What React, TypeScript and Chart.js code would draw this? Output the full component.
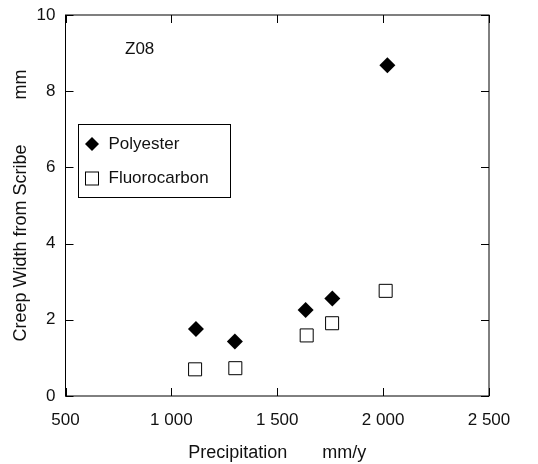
import React, { useEffect, useRef } from "react";
import { Chart, registerables } from "chart.js";

Chart.register(...registerables);

const polyesterX = [1116, 1300, 1634, 1760, 2020];
const polyesterY = [1.76, 1.43, 2.26, 2.56, 8.68];
const fluoroX = [1112, 1302, 1639, 1759, 2012];
const fluoroY = [0.7, 0.73, 1.59, 1.91, 2.76];
const seriesNames = ["Polyester", "Fluorocarbon"];
const xTitle = "Precipitation       mm/y";
const yTitle = "Creep Width from Scribe         mm";
const panelLabel = "Z08";

const FONT = "Arial, 'Liberation Sans', Helvetica, sans-serif";
const TEXT = "#111";

function fmt(v: number): string {
  const s = Math.round(v).toString();
  if (s.length <= 3) return s;
  return s.slice(0, s.length - 3) + " " + s.slice(s.length - 3);
}

const frame = {
  id: "frame",
  afterDatasetsDraw(chart: any) {
    const { ctx, chartArea: a, scales } = chart;
    ctx.save();
    ctx.strokeStyle = "#000";
    ctx.lineWidth = 1;
    ctx.strokeRect(a.left, a.top, a.right - a.left, a.bottom - a.top);
    const L = 8;
    ctx.beginPath();
    for (const t of scales.x.ticks) {
      const px = Math.round(scales.x.getPixelForValue(t.value)) + 0.5;
      ctx.moveTo(px, a.bottom);
      ctx.lineTo(px, a.bottom - L);
      ctx.moveTo(px, a.top);
      ctx.lineTo(px, a.top + L);
    }
    for (const t of scales.y.ticks) {
      const py = Math.round(scales.y.getPixelForValue(t.value)) + 0.5;
      ctx.moveTo(a.left, py);
      ctx.lineTo(a.left + L, py);
      ctx.moveTo(a.right, py);
      ctx.lineTo(a.right - L, py);
    }
    ctx.stroke();

    // panel label
    ctx.fillStyle = TEXT;
    ctx.font = `17px ${FONT}`;
    ctx.textBaseline = "middle";
    ctx.textAlign = "left";
    ctx.fillText(panelLabel, a.left + 59.5, a.top + 34);

    // legend
    const bx = a.left + 12.5;
    const by = a.top + 109;
    ctx.strokeRect(Math.round(bx) + 0.5, Math.round(by) + 0.5, 152, 73);
    const mx = bx + 14;
    const r1 = by + 20;
    const r2 = by + 54.5;
    ctx.beginPath();
    ctx.moveTo(mx, r1 - 7);
    ctx.lineTo(mx + 7, r1);
    ctx.lineTo(mx, r1 + 7);
    ctx.lineTo(mx - 7, r1);
    ctx.closePath();
    ctx.fillStyle = "#000";
    ctx.fill();
    ctx.fillStyle = "#fff";
    ctx.fillRect(mx - 6.5, r2 - 6.5, 13, 13);
    ctx.strokeStyle = "#000";
    ctx.strokeRect(mx - 6.5, r2 - 6.5, 13, 13);
    ctx.fillStyle = TEXT;
    ctx.fillText(seriesNames[0], bx + 30.5, r1);
    ctx.fillText(seriesNames[1], bx + 30.5, r2);
    ctx.restore();
  },
};

function noPad(s: any) {
  s.paddingTop = 0;
  s.paddingBottom = 0;
  s.paddingLeft = 0;
  s.paddingRight = 0;
}

export default function App() {
  const ref = useRef<HTMLCanvasElement | null>(null);
  useEffect(() => {
    document.body.style.margin = "0";
    const canvas = ref.current;
    if (!canvas) return;
    const chart = new Chart(canvas, {
      type: "scatter",
      data: {
        datasets: [
          {
            label: seriesNames[0],
            data: polyesterX.map((x, i) => ({ x, y: polyesterY[i] })),
            pointStyle: "rectRot",
            pointRadius: 8,
            pointHoverRadius: 8,
            backgroundColor: "#000",
            borderColor: "#000",
            borderWidth: 0,
          },
          {
            label: seriesNames[1],
            data: fluoroX.map((x, i) => ({ x, y: fluoroY[i] })),
            pointStyle: "rect",
            pointRadius: 9.2,
            pointHoverRadius: 9.2,
            backgroundColor: "#fff",
            borderColor: "#000",
            borderWidth: 1,
          },
        ],
      },
      plugins: [frame],
      options: {
        animation: false,
        responsive: false,
        devicePixelRatio: 1,
        layout: { padding: { left: 0, top: 15, right: 49, bottom: 0 } },
        plugins: {
          legend: { display: false },
          tooltip: { enabled: false },
        },
        scales: {
          x: {
            type: "linear",
            min: 500,
            max: 2500,
            grid: { display: false, drawTicks: false },
            border: { display: false },
            ticks: {
              stepSize: 500,
              padding: 14,
              color: TEXT,
              font: { family: FONT, size: 17 },
              maxRotation: 0,
              callback: (v: any) => fmt(Number(v)),
            },
            title: {
              display: true,
              text: xTitle,
              color: TEXT,
              font: { family: FONT, size: 18 },
              padding: { top: 0, bottom: 0 },
            },
            afterFit: (s: any) => {
              s.height = 68;
              noPad(s);
            },
          },
          y: {
            type: "linear",
            min: 0,
            max: 10,
            grid: { display: false, drawTicks: false },
            border: { display: false },
            ticks: {
              stepSize: 2,
              padding: 10,
              color: TEXT,
              font: { family: FONT, size: 17 },
            },
            title: {
              display: true,
              text: yTitle,
              color: TEXT,
              font: { family: FONT, size: 18 },
              padding: { top: 10, bottom: 0 },
            },
            afterFit: (s: any) => {
              s.width = 65.5;
              noPad(s);
            },
          },
        },
      },
    } as any);
    return () => chart.destroy();
  }, []);
  return (
    <div style={{ position: "fixed", left: 0, top: 0, width: 538, height: 464, background: "#fff" }}>
      <canvas ref={ref} width={538} height={464} style={{ display: "block" }} />
    </div>
  );
}
